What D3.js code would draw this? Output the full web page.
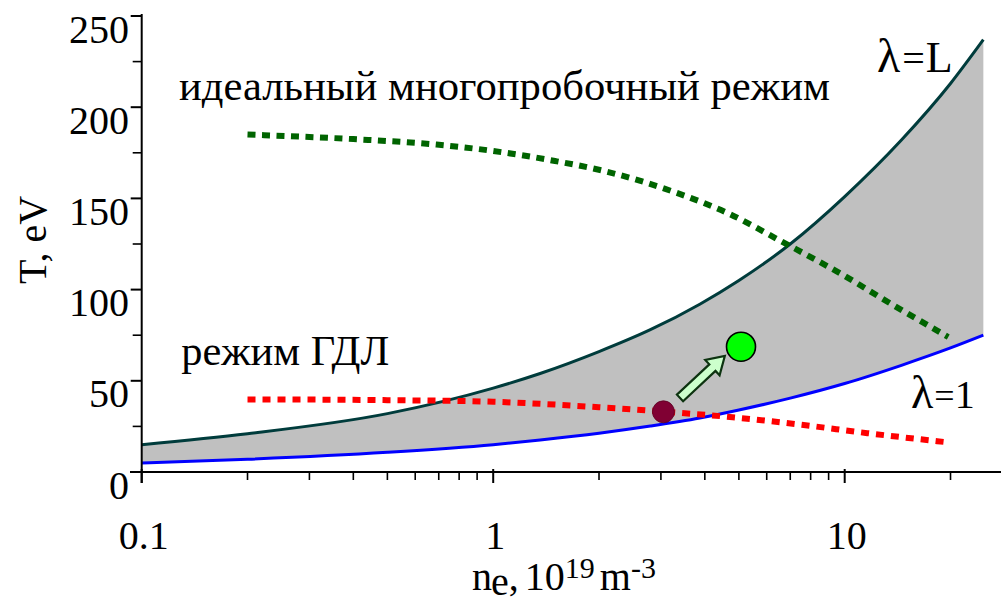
<!DOCTYPE html>
<html><head><meta charset="utf-8">
<script src="https://cdn.jsdelivr.net/npm/d3@7/dist/d3.min.js"></script>
<style>
html,body{margin:0;padding:0;background:#fff;}
svg{display:block;}
text{font-family:"Liberation Serif","Times New Roman",serif;fill:#000;}
</style></head>
<body>
<svg id="chart" width="1001" height="599"></svg>
<script>
// ---- data ----
const neGrid = [0.1, 0.2, 0.5, 1, 1.36, 2, 2.8, 3.87, 5, 7, 10, 14.5, 20, 24.8];
const upperT = [15, 21, 32, 46, 54, 66, 78, 92, 105, 125, 151, 182, 213, 237];   // lambda = L
const lowerT = [5, 7, 10.8, 15, 17.6, 21.3, 25.2, 29.6, 34, 40.5, 48.5, 58.5, 68, 75]; // lambda = 1
const multiNe = [0.2, 0.4, 0.69, 1, 1.5, 2.07, 3.33, 4.7, 6.67, 10.1, 12.8, 19.7];
const multiT  = [185, 182.5, 179.5, 176, 170.5, 165, 153, 141.5, 126, 107, 95, 74];
const gdlNe = [0.2, 0.5, 1, 1.36, 2, 3.1, 4.8, 7.46, 11.6, 20];
const gdlT  = [39.8, 39.4, 38.5, 37.4, 35.5, 33, 30, 26, 21.3, 16.1];
const currentPoint = {ne: 3.05, T: 33};
const targetPoint  = {ne: 5.07, T: 68.7};
const arrowFrom = {ne: 3.40, T: 40.6};
const arrowTo   = {ne: 4.56, T: 63.6};
const xMajor = [0.1, 1, 10];
const xMajorLabels = ["0.1", "1", "10"];
const xMinor = [0.2,0.3,0.4,0.5,0.6,0.7,0.8,0.9,2,3,4,5,6,7,8,9,20];
const yMajor = [0, 50, 100, 150, 200, 250];
const yMinor = [25, 75, 125, 175, 225];

// ---- scales ----
const svg = d3.select("#chart");
const x = d3.scaleLog().domain([0.1, 26.5]).range([141.7, 141.7 + 351.5 * Math.log10(265)]);
const y = d3.scaleLinear().domain([0, 250]).range([472, 16]);

// ---- shaded region ----
const band = neGrid.map((n, i) => ({n, lo: lowerT[i], hi: upperT[i]}));
svg.append("path").datum(band)
  .attr("fill", "#c0c0c0")
  .attr("d", d3.area().x(d => x(d.n)).y0(d => y(d.lo)).y1(d => y(d.hi)).curve(d3.curveMonotoneX));

const line = d3.line().x(d => x(d[0])).y(d => y(d[1])).curve(d3.curveMonotoneX);
svg.append("path").datum(neGrid.map((n, i) => [n, upperT[i]]))
  .attr("fill", "none").attr("stroke", "#003c3c").attr("stroke-width", 3).attr("d", line);
svg.append("path").datum(neGrid.map((n, i) => [n, lowerT[i]]))
  .attr("fill", "none").attr("stroke", "#0000ff").attr("stroke-width", 3).attr("d", line);

svg.append("path").datum(multiNe.map((n, i) => [n, multiT[i]]))
  .attr("fill", "none").attr("stroke", "#006400").attr("stroke-width", 6)
  .attr("stroke-dasharray", "8,6.5").attr("d", line);
svg.append("path").datum(gdlNe.map((n, i) => [n, gdlT[i]]))
  .attr("fill", "none").attr("stroke", "#ff0000").attr("stroke-width", 6)
  .attr("stroke-dasharray", "8,7").attr("d", line);

// ---- axes ----
const gx = svg.append("g");
gx.append("line").attr("x1", 130).attr("x2", 1001).attr("y1", y(0)).attr("y2", y(0))
  .attr("stroke", "#000").attr("stroke-width", 2);
gx.selectAll(".mj").data(xMajor).enter().append("line")
  .attr("x1", d => x(d)).attr("x2", d => x(d)).attr("y1", y(0) - 3).attr("y2", y(0) + 11)
  .attr("stroke", "#000").attr("stroke-width", 2);
gx.selectAll(".mn").data(xMinor).enter().append("line")
  .attr("x1", d => x(d)).attr("x2", d => x(d)).attr("y1", y(0)).attr("y2", y(0) + 8)
  .attr("stroke", "#000").attr("stroke-width", 1.6);
gx.selectAll(".lb").data(xMajor).enter().append("text")
  .attr("x", d => x(d) + 2).attr("y", 549).attr("text-anchor", "middle")
  .attr("font-size", 40).text((d, i) => xMajorLabels[i]);

const gy = svg.append("g");
gy.append("line").attr("x1", x(0.1)).attr("x2", x(0.1)).attr("y1", 14).attr("y2", y(0) + 11)
  .attr("stroke", "#000").attr("stroke-width", 2);
gy.selectAll(".mj").data(yMajor).enter().append("line")
  .attr("x1", x(0.1) - 11).attr("x2", x(0.1)).attr("y1", d => y(d)).attr("y2", d => y(d))
  .attr("stroke", "#000").attr("stroke-width", 2);
gy.selectAll(".mn").data(yMinor).enter().append("line")
  .attr("x1", x(0.1) - 9).attr("x2", x(0.1)).attr("y1", d => y(d)).attr("y2", d => y(d))
  .attr("stroke", "#000").attr("stroke-width", 1.6);
gy.selectAll(".lb").data(yMajor).enter().append("text")
  .attr("x", 129).attr("y", d => y(d) + 26.5).attr("text-anchor", "end")
  .attr("font-size", 40).text(d => d);

// axis titles
svg.append("text").attr("transform", "translate(46,240) rotate(-90)")
  .attr("text-anchor", "middle").attr("font-size", 40)
  .attr("textLength", 88).attr("lengthAdjust", "spacingAndGlyphs").text("T, eV");

const xt = svg.append("text").attr("x", 472).attr("y", 590).attr("font-size", 40);
xt.append("tspan").text("n");
xt.append("tspan").attr("dx", -1).attr("dy", 5).text("e");
xt.append("tspan").attr("dy", -5).text(",");
xt.append("tspan").attr("dx", 6).text("10");
xt.append("tspan").attr("dy", -12).attr("font-size", 30).text("19");
xt.append("tspan").attr("dx", 5).attr("dy", 12).text("m");
xt.append("tspan").attr("dy", -12).attr("font-size", 30).text("-3");

// ---- arrow ----
(function(){
  const x0 = x(arrowFrom.ne), y0 = y(arrowFrom.T), x1 = x(arrowTo.ne), y1 = y(arrowTo.T);
  const dx = x1 - x0, dy = y1 - y0, len = Math.hypot(dx, dy);
  const ux = dx / len, uy = dy / len, px = -uy, py = ux;
  const sw = 4.5, hw = 10.5, hl = 17;
  const bx = x1 - ux * hl, by = y1 - uy * hl;
  const pts = [
    [x0 + px * sw, y0 + py * sw], [bx + px * sw, by + py * sw], [bx + px * hw, by + py * hw],
    [x1, y1], [bx - px * hw, by - py * hw], [bx - px * sw, by - py * sw], [x0 - px * sw, y0 - py * sw]
  ];
  svg.append("polygon").attr("points", pts.map(p => p.join(",")).join(" "))
    .attr("fill", "#ccffcc").attr("stroke", "#0d3310").attr("stroke-width", 2.2)
    .attr("stroke-linejoin", "miter");
})();

// ---- points ----
svg.append("circle").attr("cx", x(currentPoint.ne)).attr("cy", y(currentPoint.T)).attr("r", 11)
  .attr("fill", "#800033").attr("stroke", "#5a0022").attr("stroke-width", 0.8);
svg.append("circle").attr("cx", x(targetPoint.ne)).attr("cy", y(targetPoint.T)).attr("r", 14.5)
  .attr("fill", "#00ff00").attr("stroke", "#000").attr("stroke-width", 1.6);

// ---- annotations ----
svg.append("text").attr("x", x(0.1277)).attr("y", y(204)).attr("font-size", 42)
  .attr("textLength", 651).attr("lengthAdjust", "spacingAndGlyphs").text("идеальный многопробочный режим");
svg.append("text").attr("x", x(0.1296)).attr("y", 365).attr("font-size", 42)
  .attr("textLength", 208).attr("lengthAdjust", "spacingAndGlyphs").text("режим ГДЛ");

const l1 = svg.append("text").attr("x", 877).attr("y", 72).attr("font-size", 44);
l1.append("tspan").attr("font-size", 48).text("λ");
l1.append("tspan").attr("dx", 2).attr("font-size", 40).text("=");
l1.append("tspan").attr("dx", 1).text("L");
const l2 = svg.append("text").attr("x", 911).attr("y", 408).attr("font-size", 40);
l2.append("tspan").attr("font-size", 46).text("λ");
l2.append("tspan").attr("dx", 1).attr("font-size", 36).text("=");
l2.append("tspan").text("1");
</script>
</body></html>
